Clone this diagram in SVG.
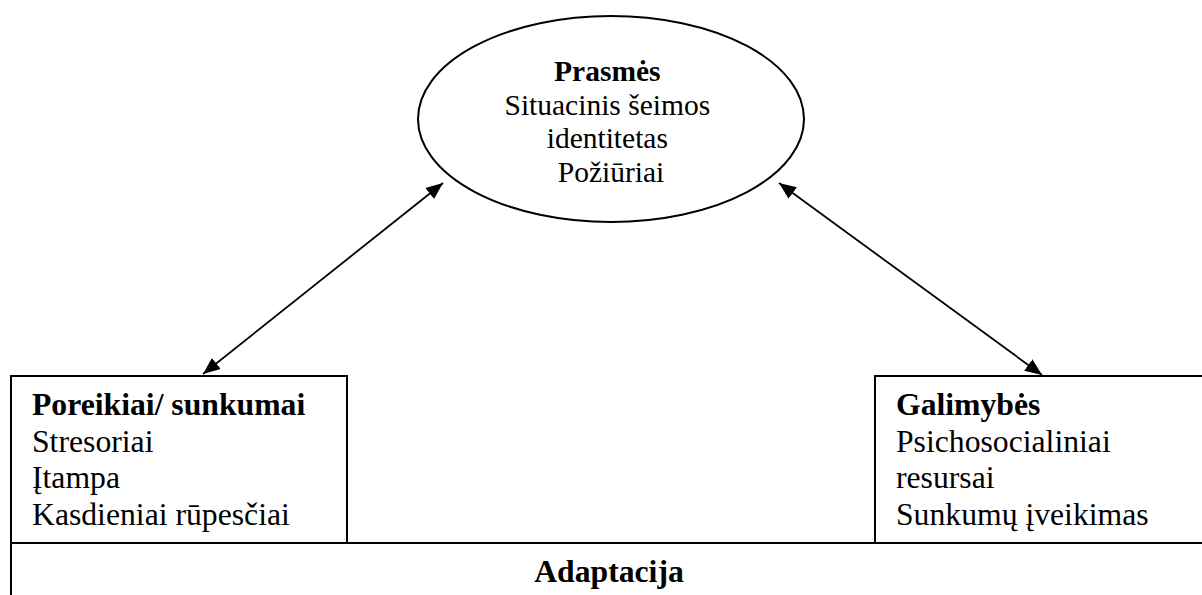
<svg xmlns="http://www.w3.org/2000/svg" width="1202" height="595" viewBox="0 0 1202 595">
<defs>
<style>
text{font-family:'Liberation Serif','Times New Roman','DejaVu Serif',serif;fill:#000;}
.b{font-weight:bold;}
.box{fill:#fff;stroke:#000;stroke-width:2;}
.con{stroke:#000;stroke-width:1.8;fill:none;marker-start:url(#ah);marker-end:url(#ah);}
</style>
<marker id="ah" markerUnits="userSpaceOnUse" markerWidth="18" markerHeight="16" viewBox="0 0 18 16" refX="17" refY="8" orient="auto-start-reverse">
<path d="M0,1 L17,8 L0,15 Z" fill="#000"/>
</marker>
</defs>
<rect width="1202" height="595" fill="#fff"/>
<g id="adaptacija">
<path d="M11,543 H1202 M11,543 V595" stroke="#000" stroke-width="2" fill="none"/>
<text class="b" x="609" y="582" font-size="31.7" text-anchor="middle">Adaptacija</text>
</g>
<g id="poreikiai">
<rect class="box" x="11" y="376" width="336" height="167"/>
<text x="32" font-size="31.7">
<tspan class="b" x="32" y="415">Poreikiai/ sunkumai</tspan>
<tspan x="32" y="452">Stresoriai</tspan>
<tspan x="32" y="488">Įtampa</tspan>
<tspan x="32" y="525">Kasdieniai rūpesčiai</tspan>
</text>
</g>
<g id="galimybes">
<rect class="box" x="875" y="376" width="340" height="167"/>
<text x="896" font-size="31.7">
<tspan class="b" x="896" y="415">Galimybės</tspan>
<tspan x="896" y="452">Psichosocialiniai</tspan>
<tspan x="896" y="488">resursai</tspan>
<tspan x="896" y="525">Sunkumų įveikimas</tspan>
</text>
</g>
<g id="prasmes">
<ellipse cx="611" cy="119" rx="193" ry="103" fill="#fff" stroke="#000" stroke-width="2"/>
<text font-size="29.5" text-anchor="middle">
<tspan class="b" x="611" y="81">Prasmės</tspan>
<tspan x="611" y="115">Situacinis šeimos</tspan>
<tspan x="611" y="148">identitetas</tspan>
<tspan x="611" y="182">Požiūriai</tspan>
</text>
</g>
<g id="connectors">
<line class="con" x1="203" y1="374" x2="443" y2="183"/>
<line class="con" x1="779" y1="183" x2="1042" y2="375"/>
</g>
</svg>
